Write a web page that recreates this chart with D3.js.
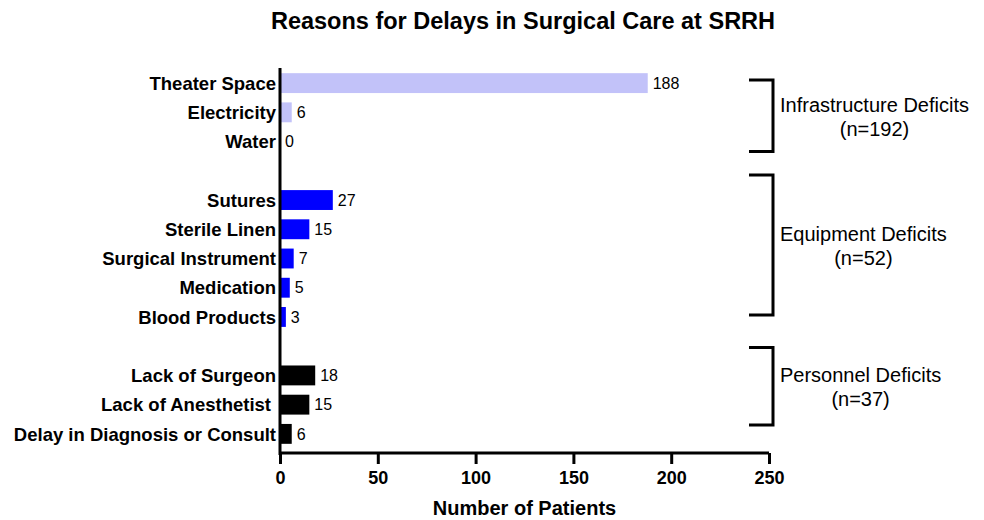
<!DOCTYPE html>
<html lang="en">
<head>
  <meta charset="UTF-8">
  <title>Reasons for Delays in Surgical Care at SRRH</title>
  <script src="https://d3js.org/d3.v7.min.js"></script>
  <style>
    body { margin: 0; background: #fff; font-family: "Liberation Sans", Arial, sans-serif; }
    svg { display: block; }
    .cat { font-size: 18.5px; font-weight: bold; }
    .val { font-size: 16px; }
    .tick text { font-size: 18px; font-weight: bold; font-family: "Liberation Sans", Arial, sans-serif; }
    .group-label { font-size: 20px; }
  </style>
</head>
<body>
<svg width="984" height="520"></svg>
<script>
  // Data
  const categories = [
    "Theater Space", "Electricity", "Water",
    "Sutures", "Sterile Linen", "Surgical Instrument", "Medication", "Blood Products",
    "Lack of Surgeon", "Lack of Anesthetist", "Delay in Diagnosis or Consult"
  ];
  const values = [188, 6, 0, 27, 15, 7, 5, 3, 18, 15, 6];
  const groupOf = [0, 0, 0, 1, 1, 1, 1, 1, 2, 2, 2];
  const groupNames = ["Infrastructure Deficits", "Equipment Deficits", "Personnel Deficits"];
  const groupTotals = [192, 52, 37];
  const groupColors = ["#c2c2f9", "#0000ff", "#000000"];
  const xTicks = [0, 50, 100, 150, 200, 250];

  const svg = d3.select("svg");

  // Slot list with blank spacer slots between groups
  const slots = [];
  categories.forEach((c, i) => {
    if (i > 0 && groupOf[i] !== groupOf[i - 1]) slots.push("__gap" + groupOf[i]);
    slots.push(c);
  });

  const x = d3.scaleLinear().domain([0, 250]).range([280, 769]);
  const y = d3.scaleBand().domain(slots).range([68.5, 448.5]).paddingInner(0.32).paddingOuter(0.16);

  // Title
  svg.append("text")
    .attr("x", 523).attr("y", 29)
    .attr("text-anchor", "middle")
    .style("font-size", "23.5px").style("font-weight", "bold")
    .text("Reasons for Delays in Surgical Care at SRRH");

  const rows = categories.map((c, i) => ({ c, v: values[i], g: groupOf[i] }));

  // Bars
  svg.append("g").selectAll("rect")
    .data(rows)
    .join("rect")
    .attr("x", x(0))
    .attr("y", d => y(d.c))
    .attr("width", d => x(d.v) - x(0))
    .attr("height", y.bandwidth())
    .attr("fill", d => groupColors[d.g]);

  // Value labels
  svg.append("g").selectAll("text")
    .data(rows)
    .join("text")
    .attr("class", "val")
    .attr("x", d => x(d.v) + 5)
    .attr("y", d => y(d.c) + y.bandwidth() / 2)
    .attr("dy", "0.36em")
    .text(d => d.v);

  // Category labels
  svg.append("g").selectAll("text")
    .data(rows)
    .join("text")
    .attr("class", "cat")
    .attr("x", d => d.c === "Lack of Anesthetist" ? x(0) - 9 : x(0) - 4)
    .attr("y", d => y(d.c) + y.bandwidth() / 2)
    .attr("dy", "0.36em")
    .attr("text-anchor", "end")
    .text(d => d.c);

  // Y axis line
  svg.append("line")
    .attr("x1", x(0)).attr("x2", x(0))
    .attr("y1", 68).attr("y2", 455)
    .attr("stroke", "#000").attr("stroke-width", 3);

  // X axis
  const xAxis = svg.append("g")
    .attr("transform", "translate(0,453)")
    .call(d3.axisBottom(x).tickValues(xTicks).tickSize(11).tickPadding(7).tickSizeOuter(0));
  xAxis.select(".domain").attr("stroke-width", 3).attr("d", `M${x(0)},0H${x(250)}`);
  xAxis.selectAll(".tick line").attr("stroke-width", 3);
  xAxis.selectAll(".tick text").attr("fill", "#000");

  svg.append("text")
    .attr("x", x(125)).attr("y", 515)
    .attr("text-anchor", "middle")
    .style("font-size", "20px").style("font-weight", "bold")
    .text("Number of Patients");

  // Group brackets
  const pads = [[-3, 10], [-25, -2], [-28, -9]];
  groupNames.forEach((name, g) => {
    const cats = categories.filter((c, i) => groupOf[i] === g);
    const mid = c => y(c) + y.bandwidth() / 2;
    const top = mid(cats[0]) + pads[g][0];
    const bot = mid(cats[cats.length - 1]) + pads[g][1];
    svg.append("path")
      .attr("d", `M749,${top}H773V${bot}H749`)
      .attr("fill", "none").attr("stroke", "#000").attr("stroke-width", 3);
    const cy = (top + bot) / 2;
    const t1 = svg.append("text")
      .attr("class", "group-label")
      .attr("x", 780).attr("y", cy - 4)
      .text(name);
    const w = t1.node().getComputedTextLength();
    svg.append("text")
      .attr("class", "group-label")
      .attr("x", 780 + w / 2).attr("y", cy + 20)
      .attr("text-anchor", "middle")
      .text("(n=" + groupTotals[g] + ")");
  });
</script>
</body>
</html>
